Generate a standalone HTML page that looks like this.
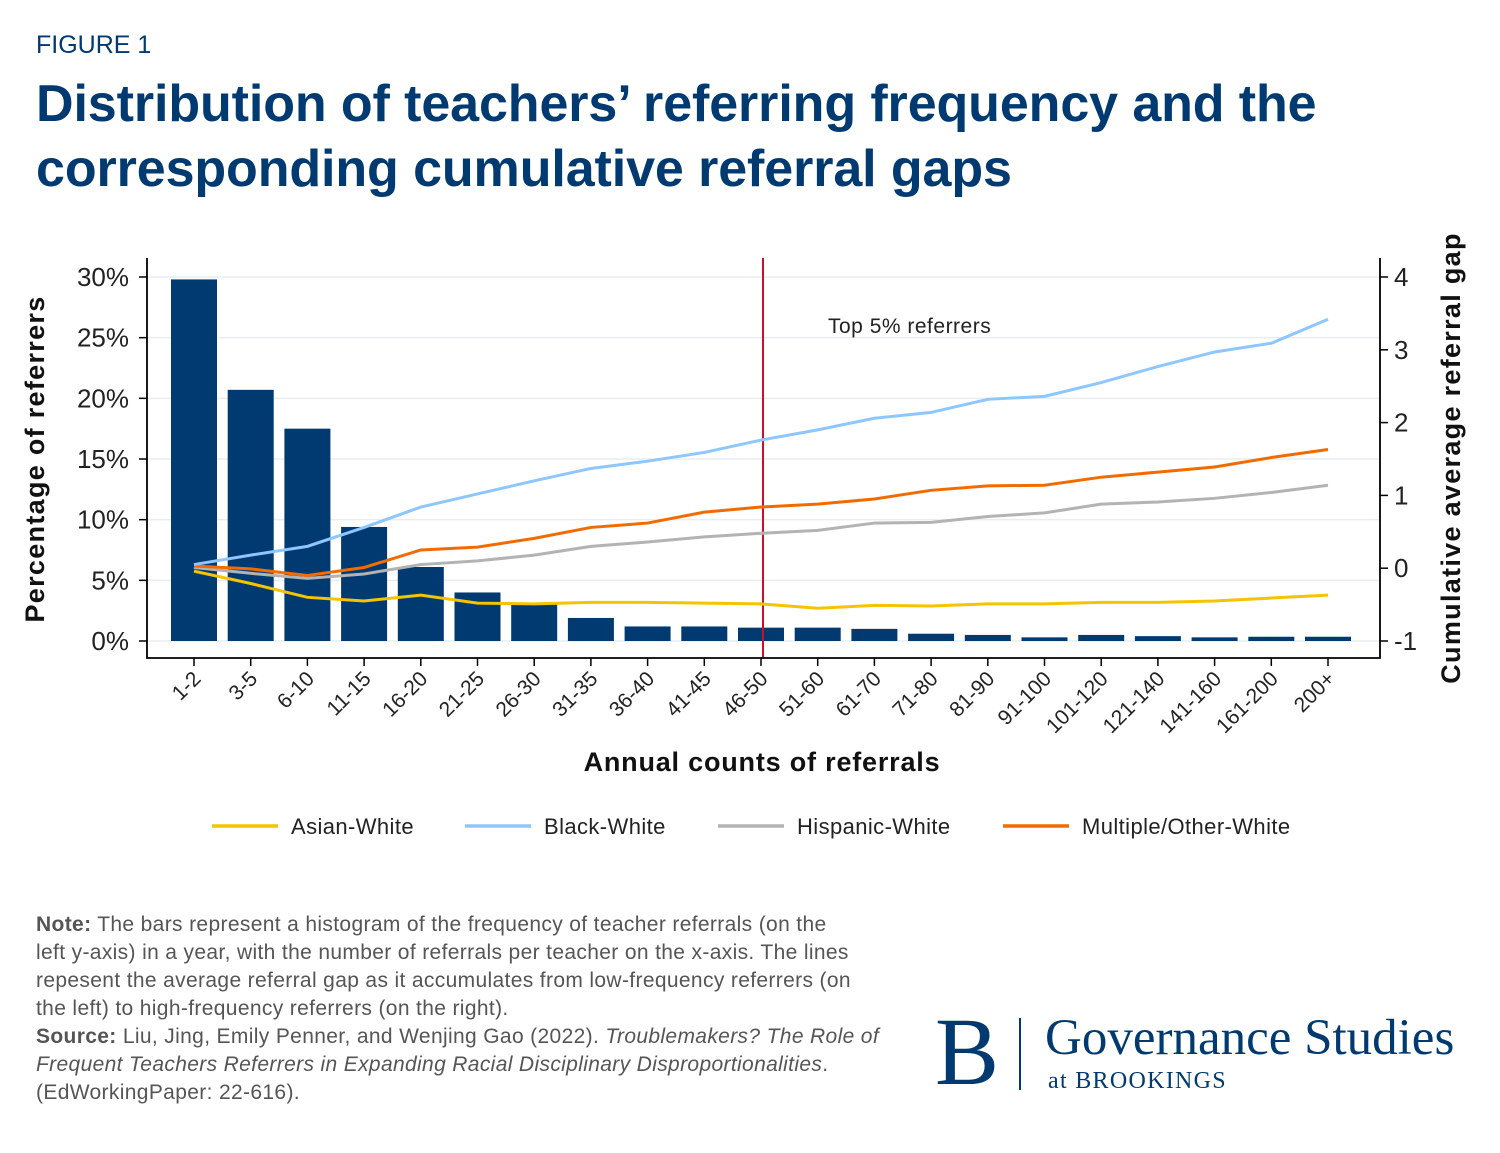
<!DOCTYPE html>
<html><head><meta charset="utf-8">
<style>
body{margin:0;width:1500px;height:1153px;background:#fff;font-family:"Liberation Sans",sans-serif;position:relative;overflow:hidden}
.fig{position:absolute;left:36px;top:31px;font-size:25px;color:#003a70}
.title{position:absolute;left:36px;top:72px;font-size:52px;font-weight:bold;color:#003a70;line-height:65px;letter-spacing:-0.1px}
.note{position:absolute;left:36px;top:911px;width:860px;font-size:21px;line-height:28px;color:#555;letter-spacing:0.35px}
.note b{color:#555}
</style></head><body>
<div class="fig">FIGURE 1</div>
<div class="title">Distribution of teachers’ referring frequency and the<br>corresponding cumulative referral gaps</div>
<svg id="chart" width="1500" height="880" style="position:absolute;left:0;top:0"></svg>
<div class="note"><b>Note:</b> The bars represent a histogram of the frequency of teacher referrals (on the<br>left y-axis) in a year, with the number of referrals per teacher on the x-axis. The lines<br>repesent the average referral gap as it accumulates from low-frequency referrers (on<br>the left) to high-frequency referrers (on the right).<br><b>Source:</b> Liu, Jing, Emily Penner, and Wenjing Gao (2022). <i>Troublemakers? The Role of<br>Frequent Teachers Referrers in Expanding Racial Disciplinary Disproportionalities</i>.<br>(EdWorkingPaper: 22-616).</div>
<div style="position:absolute;left:935px;top:1008px;width:540px;height:100px;color:#003a70;font-family:'Liberation Serif',serif">
<div style="position:absolute;left:0;top:-4px;font-size:96px;line-height:96px">B</div>
<div style="position:absolute;left:84px;top:10px;width:2px;height:72px;background:#003a70"></div>
<div style="position:absolute;left:110px;top:2px;font-size:51px;line-height:56px">Governance Studies</div>
<div style="position:absolute;left:113px;top:60px;font-size:24px;letter-spacing:1.3px">at BROOKINGS</div>
</div>
<script>
const categories=["1-2","3-5","6-10","11-15","16-20","21-25","26-30","31-35","36-40","41-45","46-50","51-60","61-70","71-80","81-90","91-100","101-120","121-140","141-160","161-200","200+"];
const barPct=[29.8,20.7,17.5,9.4,6.1,4.0,3.0,1.9,1.2,1.2,1.1,1.1,1.0,0.6,0.5,0.3,0.5,0.4,0.3,0.35,0.35];
const blackWhite=[0.05,0.18,0.30,0.56,0.84,1.02,1.20,1.37,1.47,1.59,1.76,1.90,2.06,2.14,2.32,2.36,2.55,2.77,2.97,3.09,3.42];
const multiWhite=[0.03,-0.01,-0.10,0.01,0.25,0.29,0.41,0.56,0.62,0.77,0.84,0.88,0.95,1.07,1.13,1.14,1.25,1.32,1.39,1.52,1.63];
const hispWhite=[0.01,-0.07,-0.14,-0.08,0.05,0.10,0.18,0.30,0.36,0.43,0.48,0.52,0.62,0.63,0.71,0.76,0.88,0.91,0.96,1.04,1.14];
const asianWhite=[-0.04,-0.21,-0.40,-0.45,-0.37,-0.48,-0.49,-0.47,-0.47,-0.48,-0.49,-0.55,-0.51,-0.52,-0.49,-0.49,-0.47,-0.47,-0.45,-0.41,-0.37];
const leftTicks=[0,5,10,15,20,25,30];
const rightTicks=[-1,0,1,2,3,4];
const svg=document.getElementById('chart');const NS='http://www.w3.org/2000/svg';
function el(t,a,txt){const e=document.createElementNS(NS,t);for(const k in a)e.setAttribute(k,a[k]);if(txt!==undefined)e.textContent=txt;svg.appendChild(e);return e;}
const L=147,R=1380,T=258,B=658;
const xS=i=>194+i*(1328-194)/(categories.length-1);
const yL=v=>641-v*(641-277)/30;
const yR=v=>641-(v+1)*(641-277)/5;
leftTicks.forEach(t=>{const g=el('line',{x1:L,x2:R,y1:yL(t),y2:yL(t),stroke:'#e8eef0','stroke-width':1.5});
const k=el('line',{x1:L-8,x2:L,y1:yL(t),y2:yL(t),stroke:'#000','stroke-width':1.5});
const l=el('text',{x:L-18,y:yL(t)+9,'text-anchor':'end','font-size':26,fill:'#222'},t+'%');});
rightTicks.forEach(t=>{const k=el('line',{x1:R,x2:R+8,y1:yR(t),y2:yR(t),stroke:'#000','stroke-width':1.5});
const l=el('text',{x:R+14,y:yR(t)+9,'font-size':26,fill:'#222'},t);});
barPct.forEach((v,i)=>{const b=el('rect',{x:xS(i)-23,y:yL(v),width:46,height:yL(0)-yL(v),fill:'#003a70'});});
const vl=el('line',{x1:763,x2:763,y1:T,y2:B,stroke:'#c8102e','stroke-width':2});
const vt=el('text',{x:828,y:333,'font-size':21,fill:'#222','letter-spacing':0.5},'Top 5% referrers');
const series=[[asianWhite,'#f5c400','asian-white-line'],[hispWhite,'#b3b3b3','hispanic-white-line'],[multiWhite,'#f26b00','multiple-other-white-line'],[blackWhite,'#8ec7ff','black-white-line']];
series.forEach(s=>{const p=el('polyline',{points:s[0].map((v,i)=>xS(i)+','+yR(v)).join(' '),fill:'none',stroke:s[1],'stroke-width':3});});
const ax=el('path',{d:`M${L},${T}V${B}H${R}V${T}`,fill:'none',stroke:'#000','stroke-width':1.8});
categories.forEach((c,i)=>{const k=el('line',{x1:xS(i),x2:xS(i),y1:B,y2:B+8,stroke:'#000','stroke-width':1.5});
const l=el('text',{x:xS(i)+8,y:B+22,'text-anchor':'end','font-size':21,fill:'#222',transform:`rotate(-45 ${xS(i)+8} ${B+22})`},c);});
const xt=el('text',{x:762,y:771,'text-anchor':'middle','font-size':27,'font-weight':'bold',fill:'#111','letter-spacing':0.8},'Annual counts of referrals');
const yt=el('text',{x:44,y:459,'text-anchor':'middle','font-size':27,'font-weight':'bold',fill:'#111','letter-spacing':1.3,transform:'rotate(-90 44 459)'},'Percentage of referrers');
const yt2=el('text',{x:1460,y:458,'text-anchor':'middle','font-size':27,'font-weight':'bold',fill:'#111','letter-spacing':1.3,transform:'rotate(-90 1460 458)'},'Cumulative average referral gap');
[[212,'#f5c400','Asian-White'],[465,'#8ec7ff','Black-White'],[718,'#b3b3b3','Hispanic-White'],[1003,'#f26b00','Multiple/Other-White']].forEach(g=>{
const ll=el('line',{x1:g[0],x2:g[0]+66,y1:826,y2:826,stroke:g[1],'stroke-width':3.5});
const lt=el('text',{x:g[0]+79,y:834,'font-size':22,fill:'#222','letter-spacing':0.4},g[2]);});
</script>
</body></html>
